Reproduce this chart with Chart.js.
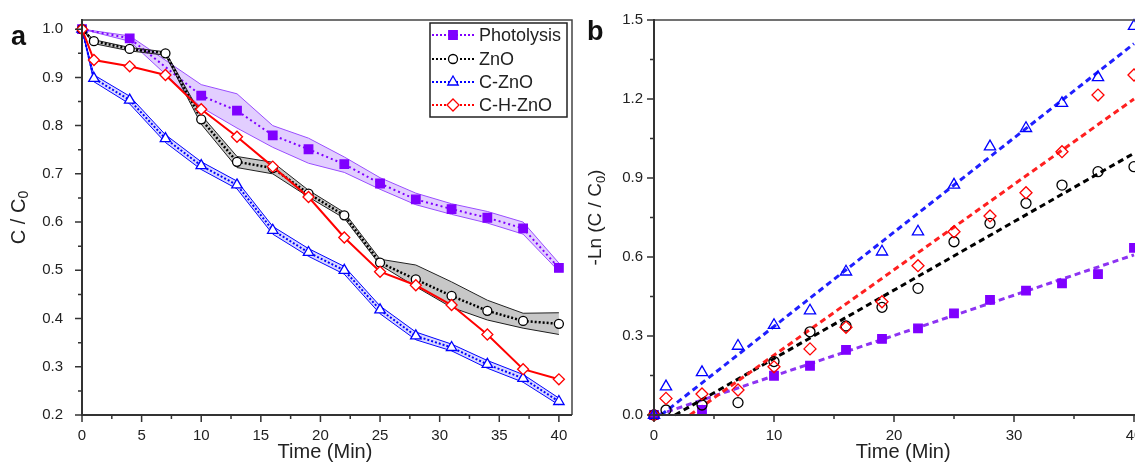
<!DOCTYPE html>
<html>
<head>
<meta charset="utf-8">
<script src="https://cdn.jsdelivr.net/npm/chart.js@4.4.0/dist/chart.umd.min.js"></script>
<style>
    html, body { margin: 0; padding: 0; background: #fff; overflow: hidden; width: 1135px; height: 465px; }
    #chartA { position: absolute; left: 0; top: 0; }
    #chartB { position: absolute; left: 580px; top: 0; }
</style>
</head>
<body>
<canvas id="chartA" width="580" height="465"></canvas>
<canvas id="chartB" width="600" height="465"></canvas>
<script>
// Sampling times (min)
const times = [0, 1, 4, 7, 10, 13, 16, 19, 22, 25, 28, 31, 34, 37, 40];
const photoTimes = [0, 4, 10, 13, 16, 19, 22, 25, 28, 31, 34, 37, 40];

// Panel a: C / C0
const photolysisA = [1.0, 0.981, 0.862, 0.831, 0.780, 0.751, 0.720, 0.680, 0.647, 0.627, 0.609, 0.587, 0.505];
const photolysisHi = [1.0, 0.986, 0.885, 0.866, 0.800, 0.774, 0.735, 0.692, 0.660, 0.638, 0.622, 0.600, 0.515];
const photolysisLo = [1.0, 0.975, 0.838, 0.795, 0.755, 0.722, 0.703, 0.668, 0.636, 0.616, 0.598, 0.575, 0.498];

const znoA = [1.0, 0.975, 0.959, 0.950, 0.813, 0.725, 0.712, 0.659, 0.614, 0.516, 0.481, 0.447, 0.416, 0.395, 0.389];
const znoHi = [1.0, 0.978, 0.962, 0.953, 0.822, 0.736, 0.724, 0.666, 0.620, 0.523, 0.511, 0.476, 0.438, 0.411, 0.412];
const znoLo = [1.0, 0.970, 0.955, 0.946, 0.803, 0.713, 0.700, 0.652, 0.608, 0.511, 0.466, 0.423, 0.397, 0.380, 0.367];

const cznoA = [1.0, 0.898, 0.853, 0.773, 0.717, 0.677, 0.583, 0.537, 0.500, 0.418, 0.364, 0.340, 0.305, 0.276, 0.228];
const cznoHi = [1.0, 0.905, 0.861, 0.781, 0.725, 0.685, 0.591, 0.545, 0.508, 0.426, 0.372, 0.347, 0.313, 0.284, 0.235];
const cznoLo = [1.0, 0.891, 0.845, 0.765, 0.709, 0.669, 0.575, 0.529, 0.492, 0.410, 0.356, 0.333, 0.297, 0.268, 0.221];

const chznoA = [1.0, 0.936, 0.923, 0.905, 0.834, 0.777, 0.715, 0.652, 0.568, 0.497, 0.469, 0.428, 0.367, 0.295, 0.274];

// Panel b: -Ln (C / C0)
const photolysisB = [0, 0.019, 0.149, 0.187, 0.247, 0.289, 0.329, 0.386, 0.437, 0.472, 0.500, 0.535, 0.635];
const znoB = [0, 0.019, 0.038, 0.047, 0.203, 0.316, 0.338, 0.409, 0.481, 0.658, 0.728, 0.804, 0.873, 0.924, 0.943];
const cznoB = [0, 0.108, 0.162, 0.262, 0.341, 0.396, 0.544, 0.620, 0.696, 0.874, 1.019, 1.089, 1.184, 1.282, 1.477];
const chznoB = [0, 0.063, 0.080, 0.095, 0.183, 0.251, 0.333, 0.430, 0.567, 0.696, 0.756, 0.844, 1.000, 1.215, 1.291];

// Linear fit lines (end points)
const photolysisFitX = [0.3, 40], photolysisFitY = [0, 0.608];
const znoFitX = [1.75, 40], znoFitY = [0, 0.994];
const cznoFitX = [0.6, 40], cznoFitY = [0, 1.41];
const chznoFitX = [3, 40], chznoFitY = [0, 1.20];

const seriesNames = ['Photolysis', 'ZnO', 'C-ZnO', 'C-H-ZnO'];

const FONT = "'Liberation Sans', Arial, sans-serif";
const PURPLE = '#7f00ff', BLACK = '#000000', BLUE = '#0000ff', RED = '#ff0000';

const pts = (xs, ys) => xs.map((x, i) => ({ x: x, y: ys[i] }));

// Draws a text made of parts (for the subscript 0), centred on x,y
function drawRich(ctx, parts, x, y, rotate) {
    ctx.save();
    ctx.translate(x, y);
    if (rotate) ctx.rotate(-Math.PI / 2);
    let total = 0;
    parts.forEach(p => { ctx.font = p.size + 'px ' + FONT; p.w = ctx.measureText(p.t).width; total += p.w; });
    let cx = -total / 2;
    ctx.fillStyle = '#222';
    ctx.textBaseline = 'middle';
    ctx.textAlign = 'left';
    parts.forEach(p => {
        ctx.font = p.size + 'px ' + FONT;
        ctx.fillText(p.t, cx, p.dy || 0);
        cx += p.w;
    });
    ctx.restore();
}

// Axis lines, frame, major/minor ticks, titles, panel letter
function decorations(cfg) {
    return {
        id: 'deco',
        afterDraw(chart) {
            const ctx = chart.ctx;
            const a = chart.chartArea;
            const xs = chart.scales.x, ys = chart.scales.y;
            ctx.save();
            ctx.strokeStyle = '#444';
            ctx.lineWidth = 1.5;
            ctx.beginPath();
            ctx.moveTo(a.left, a.top); ctx.lineTo(a.right, a.top); ctx.lineTo(a.right, a.bottom);
            ctx.stroke();
            ctx.strokeStyle = '#333';
            ctx.lineWidth = 2;
            ctx.beginPath();
            ctx.moveTo(a.left, a.top - 1); ctx.lineTo(a.left, a.bottom); ctx.lineTo(a.right, a.bottom);
            ctx.stroke();
            ctx.lineWidth = 1.5;
            ctx.beginPath();
            for (let i = 0; ; i++) {
                const v = cfg.xt.from + i * cfg.xt.step;
                if (v > cfg.xt.to + 1e-9) break;
                const len = i % 2 === 0 ? 7 : 4;
                const p = xs.getPixelForValue(v);
                ctx.moveTo(p, a.bottom); ctx.lineTo(p, a.bottom + len);
            }
            for (let i = 0; ; i++) {
                const v = cfg.yt.from + i * cfg.yt.step;
                if (v > cfg.yt.to + 1e-9) break;
                const len = i % 2 === 0 ? 7 : 4;
                const p = ys.getPixelForValue(v);
                ctx.moveTo(a.left, p); ctx.lineTo(a.left - len, p);
            }
            ctx.stroke();
            ctx.restore();

            drawRich(ctx, [{ t: 'Time (Min)', size: 20 }], (a.left + a.right) / 2 + cfg.xTitleShift, 452, false);
            drawRich(ctx, cfg.yTitle, cfg.yTitleX, (a.top + a.bottom) / 2, true);

            ctx.save();
            ctx.fillStyle = '#111';
            ctx.font = 'bold 27px ' + FONT;
            ctx.textBaseline = 'alphabetic';
            ctx.fillText(cfg.letter, cfg.letterX, cfg.letterY);
            ctx.restore();
        }
    };
}

// Legend box of panel a
const legendPlugin = {
    id: 'boxLegend',
    afterDraw(chart) {
        const ctx = chart.ctx;
        const styles = [
            { color: PURPLE, style: 'rect', r: 6, fill: PURPLE },
            { color: BLACK, style: 'circle', r: 4.5, fill: '#fff' },
            { color: BLUE, style: 'triangle', r: 6, fill: '#fff' },
            { color: RED, style: 'rectRot', r: 6, fill: '#fff' }
        ];
        const rows = [35, 59, 82, 105];
        ctx.save();
        ctx.strokeStyle = '#222';
        ctx.lineWidth = 1.5;
        ctx.strokeRect(430, 23, 137, 94);
        seriesNames.forEach((name, i) => {
            const s = styles[i];
            ctx.strokeStyle = s.color;
            ctx.lineWidth = 2;
            ctx.setLineDash([2, 2]);
            ctx.beginPath();
            ctx.moveTo(432, rows[i]); ctx.lineTo(475, rows[i]);
            ctx.stroke();
            ctx.setLineDash([]);
            ctx.fillStyle = s.fill;
            ctx.lineWidth = 1.3;
            Chart.helpers.drawPoint(ctx, { pointStyle: s.style, radius: s.r, rotation: 0, borderWidth: 1.3 }, 453, rows[i]);
            ctx.fillStyle = '#222';
            ctx.font = '18px ' + FONT;
            ctx.textBaseline = 'middle';
            ctx.fillText(name, 479, rows[i] + 1);
        });
        ctx.restore();
    }
};

function meanSet(label, xs, ys, color, style, radius, fill, dash, width) {
    return {
        label: label, data: pts(xs, ys), borderColor: color, borderWidth: width, borderDash: dash,
        pointStyle: style, pointRadius: radius, pointBackgroundColor: fill, pointBorderColor: color,
        pointBorderWidth: 1.3, fill: false, clip: false
    };
}
function bandSet(xs, ys, color, bg, upper) {
    return {
        data: pts(xs, ys), borderColor: color, borderWidth: 1, pointRadius: 0,
        fill: upper ? '+1' : false, backgroundColor: bg, clip: false
    };
}

const tickFont = { family: FONT, size: 15 };

// fixed axis sizes so the plot area lands where the picture has it
const fitY = w => s => { s.width = w; s.paddingTop = 0; s.paddingBottom = 0; };
const fitX = s => { s.height = 50; s.paddingLeft = 0; s.paddingRight = 0; };

const chartA = new Chart(document.getElementById('chartA'), {
    type: 'line',
    data: {
        datasets: [
            meanSet('C-H-ZnO', times, chznoA, RED, 'rectRot', 5.5, '#fff', [], 2),
            meanSet('ZnO', times, znoA, BLACK, 'circle', 4.5, '#fff', [2, 2], 2.5),
            bandSet(times, znoHi, '#222', 'rgba(0,0,0,0.22)', true),
            bandSet(times, znoLo, '#222', null, false),
            meanSet('C-ZnO', times, cznoA, BLUE, 'triangle', 6, '#fff', [2, 2], 2),
            bandSet(times, cznoHi, BLUE, 'rgba(40,40,255,0.18)', true),
            bandSet(times, cznoLo, BLUE, null, false),
            meanSet('Photolysis', photoTimes, photolysisA, PURPLE, 'rect', 6, PURPLE, [2, 3], 2),
            bandSet(photoTimes, photolysisHi, '#9a4dff', 'rgba(150,80,255,0.28)', true),
            bandSet(photoTimes, photolysisLo, '#9a4dff', null, false)
        ]
    },
    options: {
        responsive: false,
        animation: false,
        devicePixelRatio: 1,
        layout: { padding: { top: 20, right: 8, left: 0, bottom: 0 } },
        elements: { line: { tension: 0 } },
        plugins: { legend: { display: false }, tooltip: { enabled: false } },
        scales: {
            x: {
                type: 'linear', min: 0, max: 41.1,
                grid: { display: false, drawTicks: false }, border: { display: false },
                ticks: { stepSize: 5, includeBounds: false, padding: 12, color: '#222', font: tickFont, maxRotation: 0 },
                afterFit: fitX
            },
            y: {
                type: 'linear', min: 0.2, max: 1.019,
                grid: { display: false, drawTicks: false }, border: { display: false },
                ticks: { stepSize: 0.1, includeBounds: false, padding: 19, color: '#222', font: tickFont,
                    callback: v => v.toFixed(1) },
                afterFit: fitY(82)
            }
        }
    },
    plugins: [decorations({
        xt: { from: 0, to: 40, step: 2.5 }, yt: { from: 0.2, to: 1.0, step: 0.05 },
        yTitle: [{ t: 'C / C', size: 20 }, { t: '0', size: 14, dy: 5 }], yTitleX: 19, xTitleShift: -2,
        letter: 'a', letterX: 11, letterY: 45
    }), legendPlugin]
});

function scatterSet(label, xs, ys, color, style, radius, fill) {
    return {
        label: label, data: pts(xs, ys), showLine: false, pointStyle: style, pointRadius: radius,
        pointBackgroundColor: fill, pointBorderColor: color, pointBorderWidth: 1.3, clip: false
    };
}
function fitSet(xs, ys, color) {
    return {
        data: pts(xs, ys), borderColor: color, borderWidth: 3, borderDash: [6, 4],
        pointRadius: 0, fill: false, clip: false
    };
}

const chartB = new Chart(document.getElementById('chartB'), {
    type: 'line',
    data: {
        datasets: [
            scatterSet('C-ZnO', times, cznoB, BLUE, 'triangle', 6.5, 'rgba(0,0,0,0)'),
            scatterSet('C-H-ZnO', times, chznoB, RED, 'rectRot', 6, 'rgba(0,0,0,0)'),
            scatterSet('ZnO', times, znoB, BLACK, 'circle', 5, 'rgba(0,0,0,0)'),
            scatterSet('Photolysis', photoTimes, photolysisB, PURPLE, 'rect', 6, PURPLE),
            fitSet(cznoFitX, cznoFitY, '#1f1fff'),
            fitSet(chznoFitX, chznoFitY, '#ff2020'),
            fitSet(znoFitX, znoFitY, '#000'),
            fitSet(photolysisFitX, photolysisFitY, '#8d33f2')
        ]
    },
    options: {
        responsive: false,
        animation: false,
        devicePixelRatio: 1,
        layout: { padding: { top: 20, right: 43.6, left: 0, bottom: 0 } },
        plugins: { legend: { display: false }, tooltip: { enabled: false } },
        scales: {
            x: {
                type: 'linear', min: 0, max: 40.2,
                grid: { display: false, drawTicks: false }, border: { display: false },
                ticks: { stepSize: 10, includeBounds: false, padding: 12, color: '#222', font: tickFont, maxRotation: 0 },
                afterFit: fitX
            },
            y: {
                type: 'linear', min: 0, max: 1.5,
                grid: { display: false, drawTicks: false }, border: { display: false },
                ticks: { stepSize: 0.3, padding: 11, color: '#222', font: tickFont,
                    callback: v => v.toFixed(1) },
                afterFit: fitY(74)
            }
        }
    },
    plugins: [decorations({
        xt: { from: 0, to: 40, step: 5 }, yt: { from: 0, to: 1.5, step: 0.15 },
        yTitle: [{ t: '-Ln (C / C', size: 19 }, { t: '0', size: 13, dy: 5 }, { t: ')', size: 19 }],
        yTitleX: 16, xTitleShift: 8,
        letter: 'b', letterX: 7, letterY: 40
    })]
});
</script>
</body>
</html>
